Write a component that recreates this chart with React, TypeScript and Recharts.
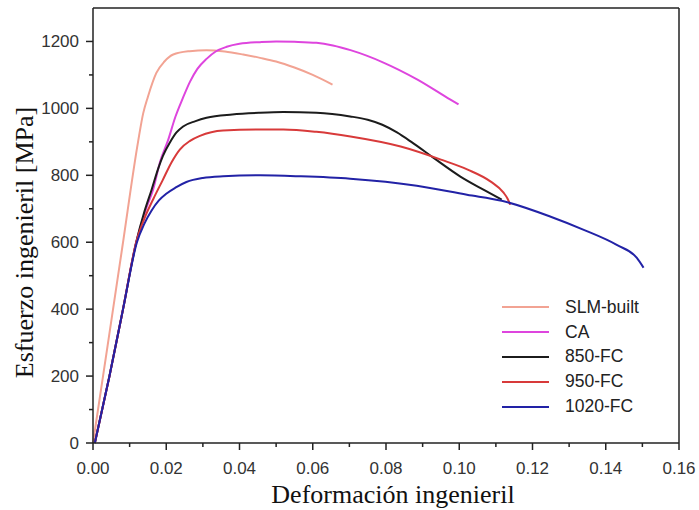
import { LineChart, Line, XAxis, YAxis, ReferenceLine, Legend } from "recharts";

// axis ticks (odd ones are the small minor ticks)
const xTicks = [0, 0.01, 0.02, 0.03, 0.04, 0.05, 0.06, 0.07, 0.08, 0.09, 0.1, 0.11, 0.12, 0.13, 0.14, 0.15, 0.16];
const yTicks = [0, 100, 200, 300, 400, 500, 600, 700, 800, 900, 1000, 1100, 1200];

// strain / stress
const slmX = [0, 0.004, 0.008, 0.0123, 0.0137, 0.015, 0.0173, 0.0195, 0.0219, 0.0264, 0.031, 0.036, 0.041, 0.0456, 0.05, 0.055, 0.06, 0.0654];
const slmY = [0, 292, 585, 900, 985, 1035, 1106, 1140, 1161, 1171, 1174, 1170, 1161, 1151, 1140, 1122, 1100, 1071];

const caX = [0.0005, 0.0045, 0.0082, 0.0118, 0.0145, 0.0164, 0.0183, 0.0205, 0.0225, 0.0245, 0.0265, 0.0285, 0.031, 0.0335, 0.0365, 0.04, 0.0456, 0.05, 0.055, 0.061, 0.0655, 0.0703, 0.0793, 0.0886, 0.0976, 0.0998];
const caY = [0, 200, 400, 600, 700, 757, 840, 905, 975, 1030, 1080, 1118, 1148, 1170, 1184, 1193, 1198, 1200, 1199, 1196, 1188, 1174, 1137, 1086, 1026, 1012];

const fc850X = [0.0005, 0.0045, 0.0082, 0.0118, 0.014, 0.016, 0.0178, 0.0191, 0.021, 0.0228, 0.0246, 0.028, 0.031, 0.038, 0.0456, 0.052, 0.061, 0.0702, 0.075, 0.079, 0.083, 0.087, 0.093, 0.1002, 0.1066, 0.1116];
const fc850Y = [0, 200, 400, 600, 690, 757, 820, 858, 898, 928, 946, 962, 972, 982, 987, 989, 987, 976, 966, 951, 928, 899, 852, 797, 757, 727];

const fc950X = [0.0005, 0.0045, 0.0082, 0.0118, 0.014, 0.0165, 0.019, 0.0215, 0.0237, 0.0265, 0.0292, 0.0355, 0.0456, 0.052, 0.061, 0.0703, 0.084, 0.095, 0.1023, 0.1086, 0.1121, 0.1132, 0.1139];
const fc950Y = [0, 200, 400, 600, 670, 730, 785, 840, 877, 903, 918, 934, 937, 937, 930, 916, 886, 847, 817, 781, 748, 730, 712];

const fc1020X = [0.0005, 0.0045, 0.0082, 0.012, 0.014, 0.016, 0.018, 0.02, 0.0225, 0.0255, 0.03, 0.0355, 0.0456, 0.0566, 0.0702, 0.0884, 0.1021, 0.1116, 0.1248, 0.134, 0.143, 0.1485, 0.1503];
const fc1020Y = [0, 200, 400, 600, 655, 695, 725, 745, 763, 780, 792, 797, 800, 797, 790, 769, 742, 724, 677, 637, 592, 553, 524];

const toPoints = (xs: number[], ys: number[]) => xs.map((x, i) => ({ x, y: ys[i] }));

const series = [
  { name: "SLM-built", color: "#f2a393", data: toPoints(slmX, slmY) },
  { name: "CA", color: "#de45de", data: toPoints(caX, caY) },
  { name: "850-FC", color: "#1c1c1c", data: toPoints(fc850X, fc850Y) },
  { name: "950-FC", color: "#d83a3a", data: toPoints(fc950X, fc950Y) },
  { name: "1020-FC", color: "#2222a6", data: toPoints(fc1020X, fc1020Y) },
];

const sans = "'Liberation Sans', Arial, sans-serif";
const serif = "'Liberation Serif', 'Times New Roman', serif";
const axisColor = "#222";

function XTick({ x, y, payload }: any) {
  const v = payload.value as number;
  const major = Math.round(v * 100) % 2 === 0;
  return (
    <g>
      <line x1={x} x2={x} y1={y} y2={y + (major ? 7 : 4)} stroke={axisColor} strokeWidth={1.5} />
      {major && (
        <text x={x} y={y + 25} textAnchor="middle" dominantBaseline="central" fontFamily={sans} fontSize={17} fill="#333">
          {v.toFixed(2)}
        </text>
      )}
    </g>
  );
}

function YTick({ x, y, payload }: any) {
  const v = payload.value as number;
  const major = v % 200 === 0;
  return (
    <g>
      <line x1={x - (major ? 7 : 4)} x2={x} y1={y} y2={y} stroke={axisColor} strokeWidth={1.5} />
      {major && (
        <text x={x - 14} y={y} textAnchor="end" dominantBaseline="central" fontFamily={sans} fontSize={17} fill="#333">
          {v}
        </text>
      )}
    </g>
  );
}

function LegendBox() {
  return (
    <div style={{ fontFamily: sans, fontSize: 17.5, color: "#222" }}>
      {series.map((s) => (
        <div key={s.name} style={{ display: "flex", alignItems: "center", height: 24.8 }}>
          <span style={{ width: 47, borderTop: `2.5px solid ${s.color}`, marginRight: 16 }} />
          <span>{s.name}</span>
        </div>
      ))}
    </div>
  );
}

export default function App() {
  return (
    <div style={{ position: "absolute", left: 0, top: 0, background: "#fff" }}>
      <LineChart width={699} height={510} margin={{ top: 8, right: 20, left: 0, bottom: 0 }}>
        <XAxis
          type="number"
          dataKey="x"
          domain={[0, 0.16]}
          ticks={xTicks}
          interval={0}
          tickSize={0}
          tickMargin={0}
          tickLine={false}
          tick={<XTick />}
          height={67}
          axisLine={{ stroke: axisColor, strokeWidth: 1.5 }}
          label={{
            content: ({ viewBox }: any) => (
              <text
                x={viewBox.x + viewBox.width / 2 + 7}
                y={503}
                textAnchor="middle"
                fontFamily={serif}
                fontSize={26}
                fill="#111"
              >
                Deformación ingenieril
              </text>
            ),
          }}
        />
        <YAxis
          type="number"
          domain={[0, 1300]}
          ticks={yTicks}
          interval={0}
          tickSize={0}
          tickMargin={0}
          tickLine={false}
          tick={<YTick />}
          width={93}
          axisLine={{ stroke: axisColor, strokeWidth: 1.5 }}
          label={{
            content: ({ viewBox }: any) => {
              const cx = 24;
              const cy = viewBox.y + viewBox.height / 2 + 17;
              return (
                <text
                  x={cx}
                  y={cy}
                  transform={`rotate(-90 ${cx} ${cy})`}
                  textAnchor="middle"
                  dominantBaseline="central"
                  fontFamily={serif}
                  fontSize={26}
                  fill="#111"
                >
                  Esfuerzo ingenieril [MPa]
                </text>
              );
            },
          }}
        />
        <ReferenceLine y={1300} stroke={axisColor} strokeWidth={1.5} />
        <ReferenceLine x={0.16} stroke={axisColor} strokeWidth={1.5} />
        {series.map((s) => (
          <Line
            key={s.name}
            data={s.data}
            dataKey="y"
            name={s.name}
            type="monotone"
            stroke={s.color}
            strokeWidth={2}
            dot={false}
            activeDot={false}
            isAnimationActive={false}
          />
        ))}
        <Legend
          layout="vertical"
          align="center"
          verticalAlign="middle"
          content={<LegendBox />}
          wrapperStyle={{ left: 502, top: 295, width: 160 }}
        />
      </LineChart>
    </div>
  );
}
